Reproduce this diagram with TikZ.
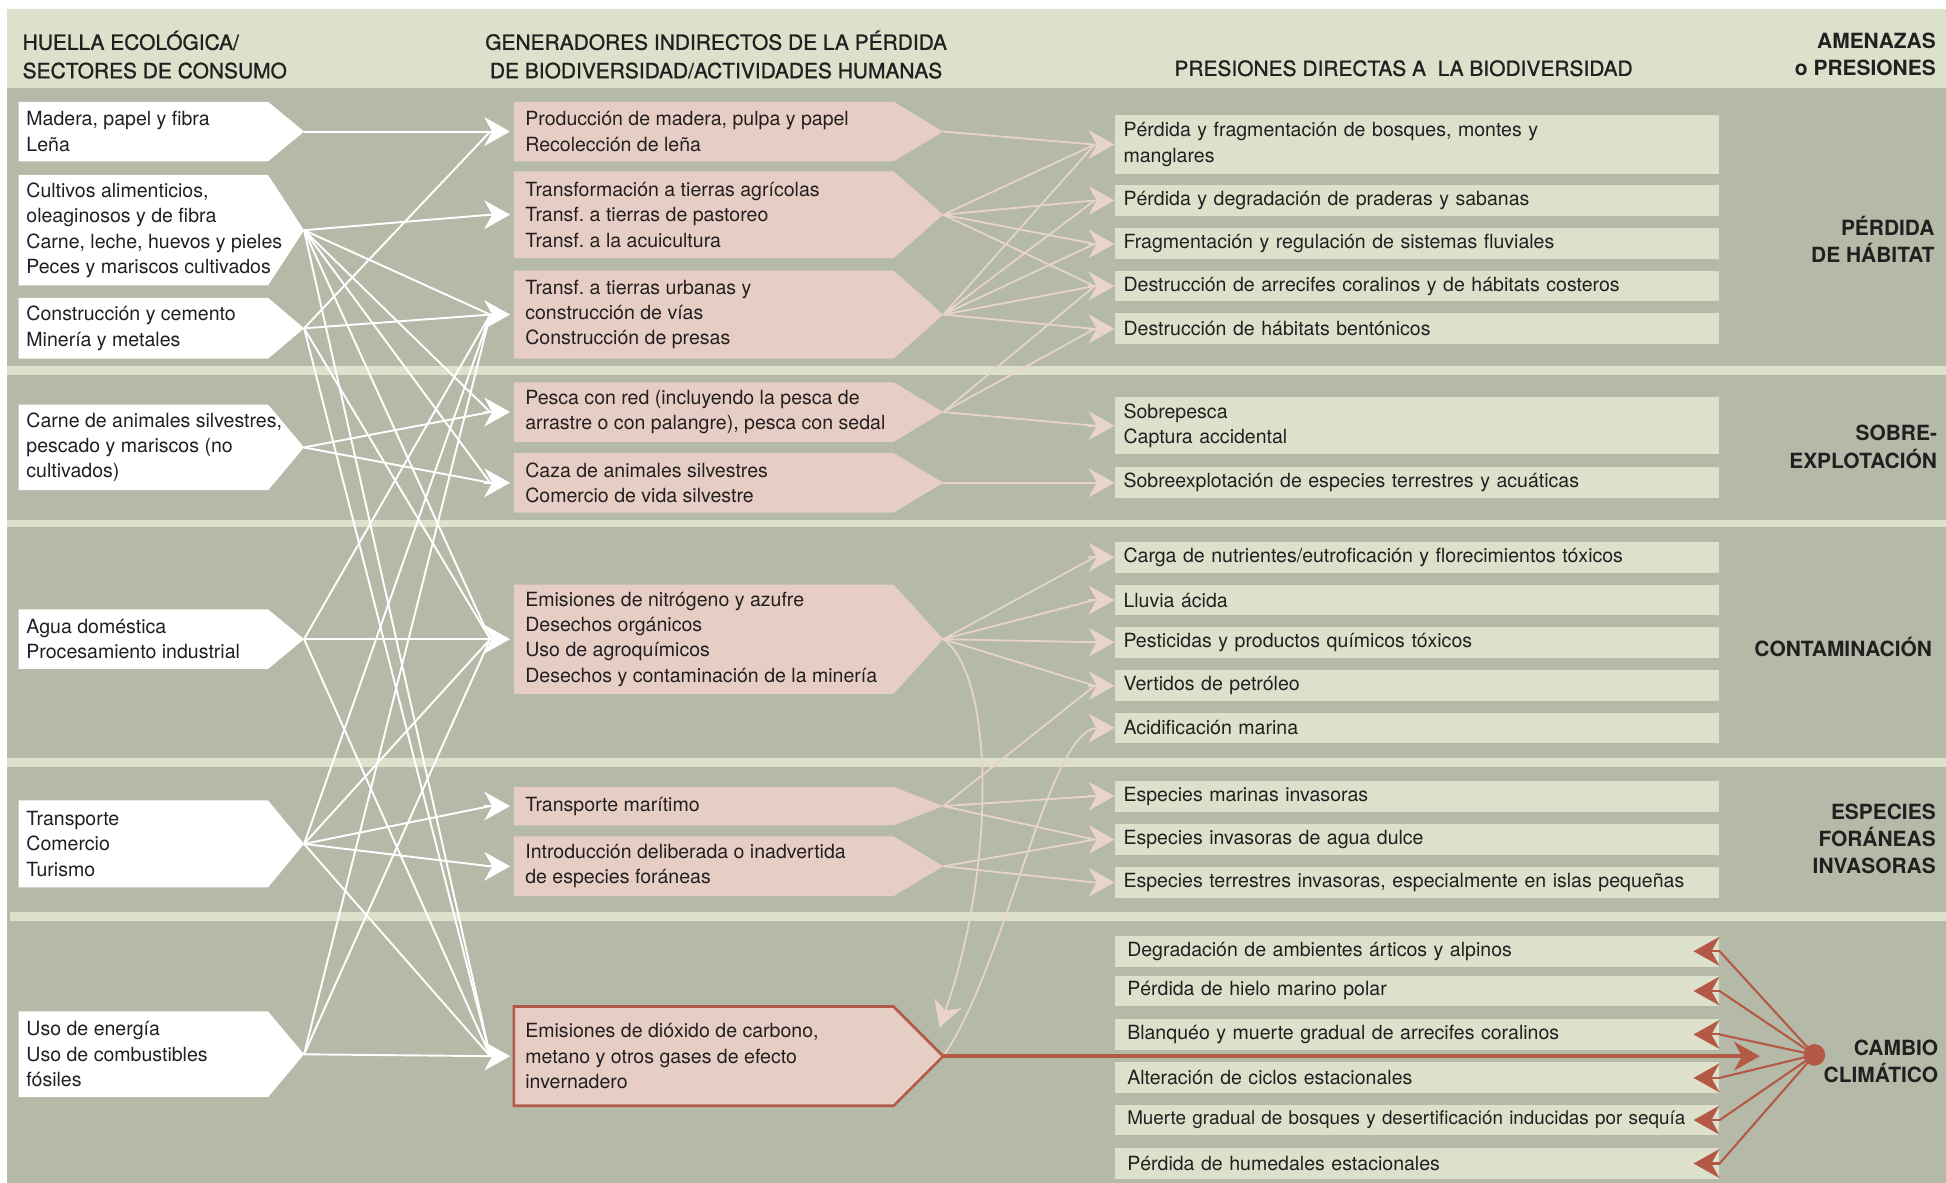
\documentclass[tikz,border=0pt]{standalone}
\usepackage{fontspec}
\setmainfont{TeX Gyre Heros}
\newfontfamily\medfont[FakeBold=1.0]{TeX Gyre Heros}
\usepackage{xcolor}
\usepackage{tikz}
\usetikzlibrary{calc,arrows.meta}
\definecolor{bg}{HTML}{B5B9A7}
\definecolor{band}{HTML}{DDE0CB}
\definecolor{pink}{HTML}{E6CEC5}
\definecolor{pinkln}{HTML}{E9D4CC}
\definecolor{rust}{HTML}{B45946}
\definecolor{ink}{HTML}{231F20}
\tikzset{
  head/.style={text=ink, font=\medfont\fontsize{12}{16.3}\selectfont, inner sep=0pt},
  thr/.style={text=ink, font=\fontsize{12}{15.6}\selectfont\bfseries, inner sep=0pt, align=right, anchor=east},
  txt/.style={text=ink, font=\fontsize{11.2}{14.5}\selectfont, inner sep=0pt, align=left, anchor=west},
  lbox/.style={fill=white},
  mbox/.style={fill=pink},
  mboxr/.style={fill=pink, draw=rust, line width=1.5pt, line join=miter},
  rbox/.style={fill=band, text=ink, font=\fontsize{11.2}{14.5}\selectfont, anchor=west,
    text width=118.25mm, align=left, inner xsep=1.75mm, inner ysep=0pt, minimum height=6.2mm},
  rboxc/.style={rbox, text width=116.75mm, inner xsep=2.5mm},
  tip/.style={-{Stealth[length=5.2mm, width=5.8mm, inset=1.6mm]}},
  wline/.style={draw=white, line width=1.1pt},
  whead/.style={wline, tip},
  pline/.style={draw=pinkln, line width=1pt},
  phead/.style={pline, tip},
  rline/.style={draw=rust, line width=1.2pt},
  rhead/.style={rline, tip},
  dot/.style={circle, fill=rust, minimum size=4.3mm, inner sep=0pt},
}
% white tag: name, top, bottom, text
\newcommand{\lefttag}[4]{%
  \path[lbox] (15,#2) -- (216,#2) -- (245,{(#2+#3)/2}) -- (216,#3) -- (15,#3) -- cycle;
  \node[txt] (#1) at (21,{(#2+#3)/2}) {#4};
  \coordinate (#1tip) at (245,{(#2+#3)/2});
}
% pink tag: name, style, top, bottom, text
\newcommand{\midtag}[5]{%
  \path[#2] (414,#3) -- (720,#3) -- (760,{(#3+#4)/2}) -- (720,#4) -- (414,#4) -- cycle;
  \node[txt] (#1) at (423,{(#3+#4)/2}) {#5};
  \coordinate (#1in) at (395,{(#3+#4)/2});
  \coordinate (#1tip) at (760,{(#3+#4)/2});
}

\begin{document}
\frenchspacing
\begin{tikzpicture}[x=0.25mm, y=-0.25mm]
  \useasboundingbox (0,0) rectangle (1568,953);
  % background and bands
  \fill[white] (0,0) rectangle (1568,953);
  \fill[band] (6,7) rectangle (1568,71);
  \fill[bg] (6,71) rectangle (1568,953);
  \fill[band] (6,295) rectangle (1568,302);
  \fill[band] (6,419) rectangle (1568,425);
  \fill[band] (6,611) rectangle (1568,618);
  \fill[band] (8,735) rectangle (1568,742);

  % column heads
  \node[head, anchor=west, align=left] (hfoot) at (18,44) {HUELLA ECOLÓGICA/\\SECTORES DE CONSUMO};
  \node[head, align=center] (hdrive) at (577,44) {GENERADORES INDIRECTOS DE LA PÉRDIDA\\DE BIODIVERSIDAD/ACTIVIDADES HUMANAS};
  \node[head, anchor=west] (hpress) at (946,55) {PRESIONES DIRECTAS A\ \ LA BIODIVERSIDAD};
  \node[thr] (hthreat) at (1560,44) {AMENAZAS\\o PRESIONES};

  % threats
  \node[thr] (thab) at (1559,193) {PÉRDIDA\\DE HÁBITAT};
  \node[thr] (tover) at (1561,360) {SOBRE-\\EXPLOTACIÓN};
  \node[thr] (tpol) at (1557,521) {CONTAMINACIÓN};
  \node[thr] (tinv) at (1560,676) {ESPECIES\\FORÁNEAS\\INVASORAS};
  \node[thr] (tclim) at (1562,855) {CAMBIO\\CLIMÁTICO};

  % consumption sectors
  \lefttag{L1}{82}{130}{Madera, papel y fibra\\Leña}
  \lefttag{L2}{141}{230}{Cultivos alimenticios,\\oleaginosos y de fibra\\Carne, leche, huevos y pieles\\Peces y mariscos cultivados}
  \lefttag{L3}{240}{289}{Construcción y cemento\\Minería y metales}
  \lefttag{L4}{326}{395}{Carne de animales silvestres,\\pescado y mariscos (no\\cultivados)}
  \lefttag{L5}{491}{539}{Agua doméstica\\Procesamiento industrial}
  \lefttag{L6}{645}{715}{Transporte\\Comercio\\Turismo}
  \lefttag{L7}{815}{884}{Uso de energía\\Uso de combustibles\\fósiles}

  % human activities
  \midtag{M1}{mbox}{82}{130}{Producción de madera, pulpa y papel\\Recolección de leña}
  \midtag{M2}{mbox}{138}{208}{Transformación a tierras agrícolas\\Transf. a tierras de pastoreo\\Transf. a la acuicultura}
  \midtag{M3}{mbox}{218}{289}{Transf. a tierras urbanas y\\construcción de vías\\Construcción de presas}
  \midtag{M4}{mbox}{308}{356}{Pesca con red (incluyendo la pesca de\\arrastre o con palangre), pesca con sedal}
  \midtag{M5}{mbox}{365}{413}{Caza de animales silvestres\\Comercio de vida silvestre}
  \midtag{M6}{mbox}{471}{559}{Emisiones de nitrógeno y azufre\\Desechos orgánicos\\Uso de agroquímicos\\Desechos y contaminación de la minería}
  \midtag{M7}{mbox}{634}{665}{Transporte marítimo}
  \midtag{M8}{mbox}{674}{722}{Introducción deliberada o inadvertida\\de especies foráneas}
  \midtag{M9}{mboxr}{811}{891}{Emisiones de dióxido de carbono,\\metano y otros gases de efecto\\invernadero}
  \coordinate (M9top) at (757,828);

  % direct pressures
  \node[rbox, minimum height=11.75mm] (R1) at (898,116.5) {Pérdida y fragmentación de bosques, montes y\\manglares};
  \node[rbox] (R2) at (898,161.5) {Pérdida y degradación de praderas y sabanas};
  \node[rbox] (R3) at (898,196.5) {Fragmentación y regulación de sistemas fluviales};
  \node[rbox] (R4) at (898,230.5) {Destrucción de arrecifes coralinos y de hábitats costeros};
  \node[rbox] (R5) at (898,265) {Destrucción de hábitats bentónicos};
  \node[rbox, minimum height=11.5mm] (R6) at (898,343) {Sobrepesca\\Captura accidental};
  \node[rbox] (R7) at (898,389) {Sobreexplotación de especies terrestres y acuáticas};
  \node[rbox] (R8) at (898,449) {Carga de nutrientes/eutroficación y florecimientos tóxicos};
  \node[rbox] (R9) at (898,483.5) {Lluvia ácida};
  \node[rbox] (R10) at (898,517.5) {Pesticidas y productos químicos tóxicos};
  \node[rbox] (R11) at (898,552.5) {Vertidos de petróleo};
  \node[rbox] (R12) at (898,586.5) {Acidificación marina};
  \node[rbox] (R13) at (898,641.5) {Especies marinas invasoras};
  \node[rbox] (R14) at (898,676.5) {Especies invasoras de agua dulce};
  \node[rbox] (R15) at (898,711) {Especies terrestres invasoras, especialmente en islas pequeñas};
  \node[rboxc] (R16) at (898,766.5) {Degradación de ambientes árticos y alpinos};
  \node[rboxc] (R17) at (898,798.5) {Pérdida de hielo marino polar};
  \node[rboxc] (R18) at (898,833.5) {Blanquéo y muerte gradual de arrecifes coralinos};
  \node[rboxc] (R19) at (898,868.5) {Alteración de ciclos estacionales};
  \node[rboxc, font=\fontsize{10.8}{14}\selectfont] (R20) at (898,902.5) {\mbox{Muerte gradual de bosques y desertificación inducidas por sequía}};
  \node[rboxc] (R21) at (898,937.5) {Pérdida de humedales estacionales};

  % sectors -> activities
  \draw[wline] (L1tip) -- (M1in);
  \draw[wline] (L2tip) -- (M2in);
  \draw[wline] (L2tip) -- (M3in);
  \draw[wline] (L2tip) -- (M4in);
  \draw[wline] (L2tip) -- (M5in);
  \draw[wline] (L2tip) -- (M6in);
  \draw[wline] (L2tip) -- (M9in);
  \draw[wline] (L3tip) -- (M1in);
  \draw[wline] (L3tip) -- (M3in);
  \draw[wline] (L3tip) -- (M6in);
  \draw[wline] (L3tip) -- (M9in);
  \draw[wline] (L4tip) -- (M4in);
  \draw[wline] (L4tip) -- (M5in);
  \draw[wline] (L5tip) -- (M3in);
  \draw[wline] (L5tip) -- (M6in);
  \draw[wline] (L5tip) -- (M9in);
  \draw[wline] (L6tip) -- (M3in);
  \draw[wline] (L6tip) -- (M6in);
  \draw[wline] (L6tip) -- (M7in);
  \draw[wline] (L6tip) -- (M8in);
  \draw[wline] (L6tip) -- (M9in);
  \draw[wline] (L7tip) -- (M3in);
  \draw[wline] (L7tip) -- (M6in);
  \draw[wline] (L7tip) -- (M9in);
  \foreach \m in {M1,M2,M3,M4,M5,M6,M7,M8,M9}
    \draw[whead] ($(\m in)+(-5,0)$) -- ($(\m in)+(16,0)$);

  % activities -> pressures
  \draw[pline] (M1tip) -- ($(R1.west)+(-16,0)$);
  \draw[pline] (M2tip) -- ($(R1.west)+(-16,0)$);
  \draw[pline] (M2tip) -- ($(R2.west)+(-16,0)$);
  \draw[pline] (M2tip) -- ($(R3.west)+(-16,0)$);
  \draw[pline] (M2tip) -- ($(R4.west)+(-16,0)$);
  \draw[pline] (M3tip) -- ($(R1.west)+(-16,0)$);
  \draw[pline] (M3tip) -- ($(R2.west)+(-16,0)$);
  \draw[pline] (M3tip) -- ($(R3.west)+(-16,0)$);
  \draw[pline] (M3tip) -- ($(R4.west)+(-16,0)$);
  \draw[pline] (M3tip) -- ($(R5.west)+(-16,0)$);
  \draw[pline] (M4tip) -- ($(R4.west)+(-16,0)$);
  \draw[pline] (M4tip) -- ($(R5.west)+(-16,0)$);
  \draw[pline] (M4tip) -- ($(R6.west)+(-16,0)$);
  \draw[pline] (M5tip) -- ($(R7.west)+(-16,0)$);
  \draw[pline] (M6tip) -- ($(R8.west)+(-16,0)$);
  \draw[pline] (M6tip) -- ($(R9.west)+(-16,0)$);
  \draw[pline] (M6tip) -- ($(R10.west)+(-16,0)$);
  \draw[pline] (M6tip) -- ($(R11.west)+(-16,0)$);
  \draw[pline] (M7tip) -- ($(R11.west)+(-16,0)$);
  \draw[pline] (M7tip) -- ($(R13.west)+(-16,0)$);
  \draw[pline] (M7tip) -- ($(R14.west)+(-16,0)$);
  \draw[pline] (M8tip) -- ($(R14.west)+(-16,0)$);
  \draw[pline] (M8tip) -- ($(R15.west)+(-16,0)$);
  \foreach \r in {R1,R2,R3,R4,R5,R6,R7,R8,R9,R10,R11,R13,R14,R15}
    \draw[phead] ($(\r.west)+(-21,0)$) -- (\r.west);
  \draw[phead] (M6tip) .. controls (802,545) and (802,700) .. (M9top);
  \draw[phead] (M9tip) .. controls (810,780) and (845,587) .. (R12.west);

  % climate change
  \node[dot] (cc) at (1462,850) {};
  \draw[rhead, line width=2pt] (M9tip) -- ($(cc.center)+(-44,1)$);
  \foreach \r in {R16,R17,R18,R19,R20,R21} {
    \draw[rline] (cc.center) -- (\r.east);
    \draw[rhead] (\r.east) -- ($(\r.east)+(-21,0)$);
  }
  \node[dot] at (cc) {};
\end{tikzpicture}
\end{document}
